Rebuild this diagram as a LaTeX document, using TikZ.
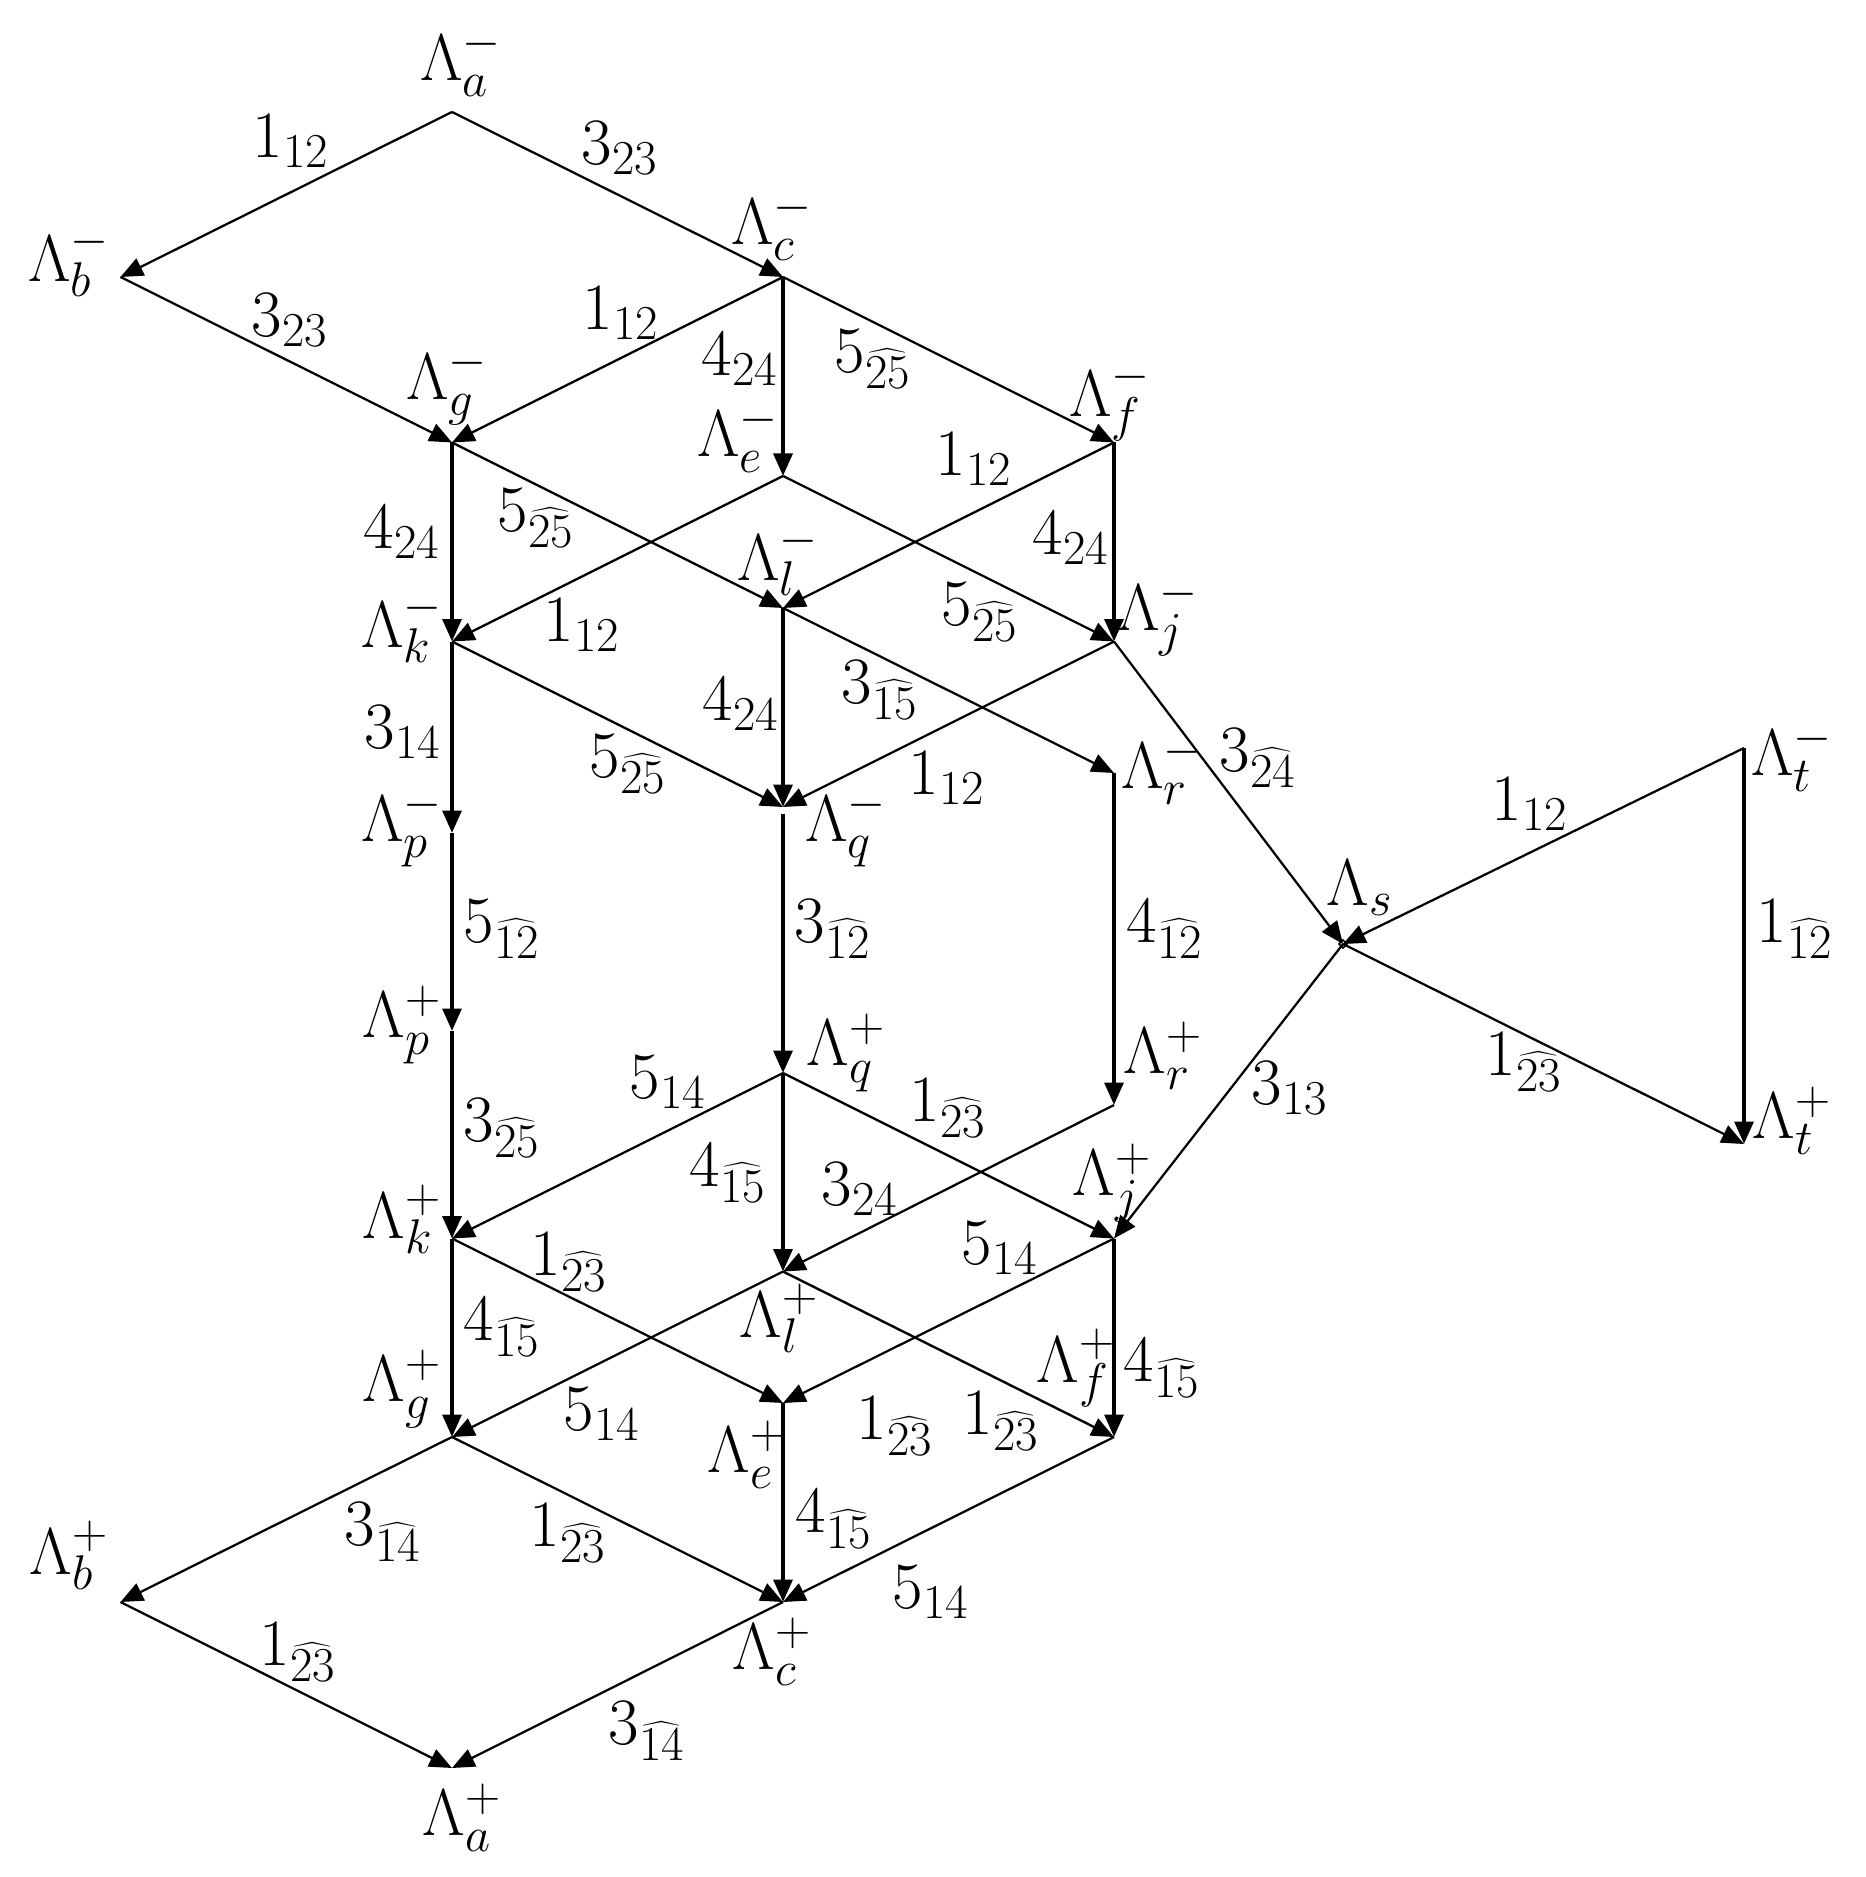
\RequirePackage{fix-cm}
\documentclass[tikz,border=0pt]{standalone}
\usetikzlibrary{arrows.meta}
\DeclareMathSizes{26.5}{26.5}{19.5}{15}
\begin{document}
\begin{tikzpicture}[x=0.4pt,y=-0.4pt,
  lab/.style={inner sep=0pt, font=\fontsize{26.5}{32}\selectfont},
  ed/.style={line width=0.9pt,-{Triangle[length=9pt,width=7.5pt]}},
  ved/.style={line width=1.6pt,-{Triangle[length=9pt,width=7.5pt]}}]
\useasboundingbox (0,0) rectangle (1865,1877);
% vertices
\coordinate (vam) at (452,112);
\coordinate (vbm) at (120.5,277);
\coordinate (vcm) at (783,277);
\coordinate (vgm) at (452,442.5);
\coordinate (vfm) at (1114,442.5);
\coordinate (vem) at (783,476);
\coordinate (vlm) at (783,608);
\coordinate (vkm) at (452,641.5);
\coordinate (vjm) at (1114,641.5);
\coordinate (vrm) at (1114,773);
\coordinate (vqm) at (783,807);
\coordinate (vpm) at (452,833);
\coordinate (vtm) at (1744,748);
\coordinate (vs) at (1343,944);
\coordinate (vpp) at (452,1031);
\coordinate (vqp) at (783,1073);
\coordinate (vrp) at (1114,1105);
\coordinate (vtp) at (1744,1144);
\coordinate (vkp) at (452,1238.5);
\coordinate (vjp) at (1114,1238.5);
\coordinate (vlp) at (783,1271.5);
\coordinate (vep) at (783,1403);
\coordinate (vgp) at (452,1437);
\coordinate (vfp) at (1114,1437);
\coordinate (vbp) at (120.5,1602);
\coordinate (vcp) at (783,1602);
\coordinate (vap) at (452,1768);
% edges
\draw[ed] (vam) -- (vbm);
\draw[ed] (vam) -- (vcm);
\draw[ed] (vbm) -- (vgm);
\draw[ed] (vcm) -- (vgm);
\draw[ved] (vcm) -- (vem);
\draw[ed] (vcm) -- (vfm);
\draw[ved] (vgm) -- (vkm);
\draw[ed] (vgm) -- (vlm);
\draw[ed] (vem) -- (vkm);
\draw[ed] (vem) -- (vjm);
\draw[ed] (vfm) -- (vlm);
\draw[ved] (vfm) -- (vjm);
\draw[ved] (vkm) -- (vpm);
\draw[ed] (vkm) -- (vqm);
\draw[ved] (vlm) -- (vqm);
\draw[ed] (vlm) -- (vrm);
\draw[ed] (vjm) -- (vqm);
\draw[ed] (vjm) -- (vs);
\draw[ed] (vtm) -- (vs);
\draw[ved] (vtm) -- (vtp);
\draw[ed] (vs) -- (vtp);
\draw[ed] (vs) -- (vjp);
\draw[ved] (vpm) -- (vpp);
\draw[ved,shorten <=2.8pt] (vqm) -- (vqp);
\draw[ved] (vrm) -- (vrp);
\draw[ved] (vpp) -- (vkp);
\draw[ed] (vqp) -- (vkp);
\draw[ved] (vqp) -- (vlp);
\draw[ed] (vqp) -- (vjp);
\draw[ed] (vrp) -- (vlp);
\draw[ved] (vkp) -- (vgp);
\draw[ed] (vkp) -- (vep);
\draw[ed] (vlp) -- (vgp);
\draw[ed] (vlp) -- (vfp);
\draw[ed] (vjp) -- (vep);
\draw[ved] (vjp) -- (vfp);
\draw[ved] (vep) -- (vcp);
\draw[ed] (vgp) -- (vbp);
\draw[ed] (vgp) -- (vcp);
\draw[ed] (vfp) -- (vcp);
\draw[ed] (vbp) -- (vap);
\draw[ed] (vcp) -- (vap);
\draw[line width=0.6pt] (vs) ++(0,-4) -- ++(4,4) -- ++(-4,4) -- ++(-4,-4) -- cycle;
% vertex labels
\node[lab] (tam) at (461,62) {$\Lambda_a^-$};
\node[lab] (tbm) at (69,261) {$\Lambda_b^-$};
\node[lab] (tcm) at (772,226) {$\Lambda_c^-$};
\node[lab] (tgm) at (447,386) {$\Lambda_g^-$};
\node[lab] (tem) at (738,438) {$\Lambda_e^-$};
\node[lab] (tfm) at (1110,401) {$\Lambda_f^-$};
\node[lab] (tlm) at (778,560) {$\Lambda_l^-$};
\node[lab] (tkm) at (402,627) {$\Lambda_k^-$};
\node[lab] (tjm) at (1158,617) {$\Lambda_j^-$};
\node[lab] (trm) at (1162,770) {$\Lambda_r^-$};
\node[lab] (tqm) at (846,828) {$\Lambda_q^-$};
\node[lab] (tpm) at (402,828) {$\Lambda_p^-$};
\node[lab] (tpp) at (402,1025) {$\Lambda_p^+$};
\node[lab] (tqp) at (846,1053) {$\Lambda_q^+$};
\node[lab] (trp) at (1163,1056) {$\Lambda_r^+$};
\node[lab] (tjp) at (1112,1183) {$\Lambda_j^+$};
\node[lab] (tkp) at (402,1219) {$\Lambda_k^+$};
\node[lab] (tgp) at (402,1389) {$\Lambda_g^+$};
\node[lab] (tlp) at (779,1318) {$\Lambda_l^+$};
\node[lab] (tep) at (747,1455) {$\Lambda_e^+$};
\node[lab] (tfp) at (1076,1368) {$\Lambda_f^+$};
\node[lab] (tcp) at (772,1652) {$\Lambda_c^+$};
\node[lab] (tbp) at (69,1555) {$\Lambda_b^+$};
\node[lab] (tap) at (462,1818) {$\Lambda_a^+$};
\node[lab] (ts) at (1360,888) {$\Lambda_s$};
\node[lab] (ttm) at (1792,757) {$\Lambda_t^-$};
\node[lab] (ttp) at (1792,1121) {$\Lambda_t^+$};
% edge labels
\node[lab] (e1) at (291,141) {$1_{12}$};
\node[lab] (e2) at (620,148) {$3_{23}$};
\node[lab] (e3) at (290,320) {$3_{23}$};
\node[lab] (e4) at (621,313) {$1_{12}$};
\node[lab] (e5) at (740,359) {$4_{24}$};
\node[lab] (e6) at (873,359) {$5_{\widehat{25}}$};
\node[lab] (e7) at (974,459) {$1_{12}$};
\node[lab] (e8) at (1071,538) {$4_{24}$};
\node[lab] (e9) at (402,532) {$4_{24}$};
\node[lab] (e10) at (536,518) {$5_{\widehat{25}}$};
\node[lab] (e11) at (582,625) {$1_{12}$};
\node[lab] (e12) at (980,612) {$5_{\widehat{25}}$};
\node[lab] (e13) at (741,704) {$4_{24}$};
\node[lab] (e14) at (403,732) {$3_{14}$};
\node[lab] (e15) at (628,764) {$5_{\widehat{25}}$};
\node[lab] (e16) at (880,690) {$3_{\widehat{15}}$};
\node[lab] (e17) at (947,778) {$1_{12}$};
\node[lab] (e18) at (1258,758) {$3_{\widehat{24}}$};
\node[lab] (e19) at (1530,804) {$1_{12}$};
\node[lab] (e20) at (1795,929) {$1_{\widehat{12}}$};
\node[lab] (e21) at (1524,1062) {$1_{\widehat{23}}$};
\node[lab] (e22) at (1290,1088) {$3_{13}$};
\node[lab] (e23) at (502,929) {$5_{\widehat{12}}$};
\node[lab] (e24) at (833,929) {$3_{\widehat{12}}$};
\node[lab] (e25) at (1165,929) {$4_{\widehat{12}}$};
\node[lab] (e26) at (502,1128) {$3_{\widehat{25}}$};
\node[lab] (e27) at (668,1082) {$5_{14}$};
\node[lab] (e28) at (728,1173) {$4_{\widehat{15}}$};
\node[lab] (e29) at (948,1108) {$1_{\widehat{23}}$};
\node[lab] (e30) at (860,1189) {$3_{24}$};
\node[lab] (e31) at (1000,1248) {$5_{14}$};
\node[lab] (e32) at (569,1262) {$1_{\widehat{23}}$};
\node[lab] (e33) at (502,1327) {$4_{\widehat{15}}$};
\node[lab] (e34) at (602,1414) {$5_{14}$};
\node[lab] (e35) at (895,1426) {$1_{\widehat{23}}$};
\node[lab] (e36) at (1001,1421) {$1_{\widehat{23}}$};
\node[lab] (e37) at (1162,1368) {$4_{\widehat{15}}$};
\node[lab] (e38) at (834,1519) {$4_{\widehat{15}}$};
\node[lab] (e39) at (383,1532) {$3_{\widehat{14}}$};
\node[lab] (e40) at (568,1533) {$1_{\widehat{23}}$};
\node[lab] (e41) at (931,1592) {$5_{14}$};
\node[lab] (e42) at (298,1652) {$1_{\widehat{23}}$};
\node[lab] (e43) at (647,1731) {$3_{\widehat{14}}$};
\end{tikzpicture}
\end{document}
